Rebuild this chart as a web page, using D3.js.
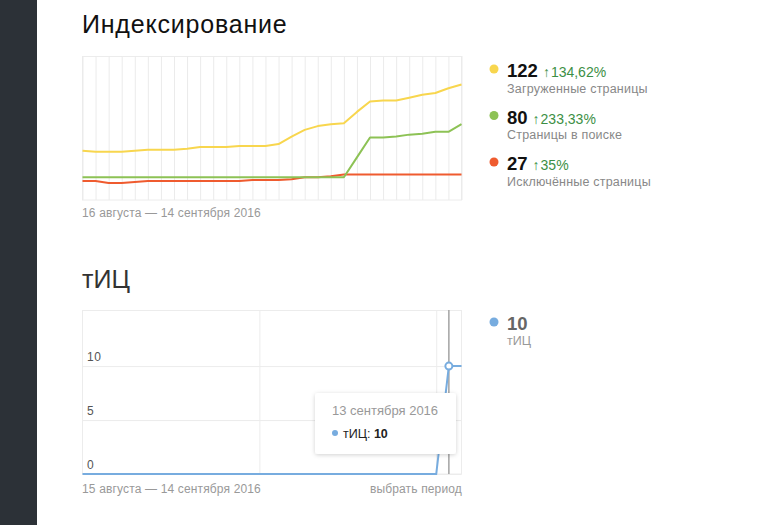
<!DOCTYPE html>
<html><head><meta charset="utf-8">
<script src="https://cdn.jsdelivr.net/npm/d3@7"></script>
<style>
html,body{margin:0;padding:0;background:#fff;}
svg{display:block;font-family:Arial,"Liberation Sans",sans-serif;}
</style></head>
<body>
<svg id="c" width="769" height="525"></svg>
<script>
// ---- data ----
const idxDates = d3.range(30).map(i => d3.timeDay.offset(new Date(2016, 7, 16), i));
const loadedPages   = [52,51,51,51,52,53,53,53,54,56,56,56,57,57,57,59,67,74,78,80,81,93,104,105,105,108,111,113,118,122];
const searchPages   = [24,24,24,24,24,24,24,24,24,24,24,24,24,24,24,24,24,24,24,24,24,45,66,66,67,69,70,72,72,80];
const excludedPages = [20,20,18,18,19,20,20,20,20,20,20,20,20,21,21,21,22,24,24,25,27,27,27,27,27,27,27,27,27,27];
const idxLegendValues = [122, 80, 27];
const idxLegendChanges = ["134,62%", "233,33%", "35%"];
const idxLegendNames = ["Загруженные страницы", "Страницы в поиске", "Исключённые страницы"];

const ticDates = d3.range(31).map(i => d3.timeDay.offset(new Date(2016, 7, 15), i));
const ticValues = [0,0,0,0,0,0,0,0,0,0,0,0,0,0,0,0,0,0,0,0,0,0,0,0,0,0,0,0,0,10,10];
const ticTicks = [0, 5, 10];

const svg = d3.select("#c");
const colors = {yellow:"#f8d64e", green:"#8dc255", red:"#ef5b2f", blue:"#77acdf"};

// sidebar
svg.append("rect").attr("x",0).attr("y",0).attr("width",37).attr("height",525).attr("fill","#2c3137");

// ---- Indexing chart ----
svg.append("text").attr("x",82).attr("y",33).attr("font-size",25).attr("letter-spacing",0.8).attr("fill","#111").text("Индексирование");

const x1 = d3.scaleTime().domain([idxDates[0], idxDates[29]]).range([82.5, 461.5]);
const y1 = d3.scaleLinear().domain([0, 152]).range([200, 56]);

const g1 = svg.append("g");
g1.append("rect").attr("x",82.5).attr("y",56.5).attr("width",379).attr("height",143.5)
  .attr("fill","none").attr("stroke","#ececec");
const gx1 = g1.append("g").attr("transform","translate(0,200)")
  .call(d3.axisBottom(x1).tickValues(idxDates).tickSize(-144).tickFormat(""));
gx1.select(".domain").remove();
gx1.selectAll("line").attr("stroke","#ebebeb");

const line1 = d3.line().x((d,i) => x1(idxDates[i])).y(d => y1(d));
[[excludedPages, colors.red],[searchPages, colors.green],[loadedPages, colors.yellow]].forEach(([s,c]) => {
  g1.append("path").datum(s).attr("d", line1).attr("fill","none").attr("stroke",c).attr("stroke-width",2).attr("stroke-linejoin","round");
});
svg.append("text").attr("x",82).attr("y",217).attr("font-size",12).attr("letter-spacing",0.15).attr("fill","#999").text("16 августа — 14 сентября 2016");

// legend
const legColors = [colors.yellow, colors.green, colors.red];
idxLegendValues.forEach((v,i) => {
  const yb = 77 + i*46.5;
  svg.append("circle").attr("cx",494).attr("cy",yb-8).attr("r",4.5).attr("fill",legColors[i]);
  const t = svg.append("text").attr("x",507).attr("y",yb);
  t.append("tspan").attr("font-size",18.5).attr("font-weight","bold").attr("fill","#111").text(v);
  t.append("tspan").attr("dx",5).attr("font-size",14).attr("fill","#3c8f45").text("↑");
  t.append("tspan").attr("dx",1).attr("font-size",14).attr("fill","#3c8f45").text(idxLegendChanges[i]);
  svg.append("text").attr("x",507).attr("y",yb+15.5).attr("font-size",12.5).attr("fill","#888").attr("letter-spacing",0.2).text(idxLegendNames[i]);
});

// ---- TIC chart ----
svg.append("text").attr("x",82).attr("y",288).attr("font-size",25).attr("fill","#333").text("тИЦ");

const x2 = d3.scaleTime().domain([ticDates[0], ticDates[30]]).range([82.5, 461.5]);
const y2 = d3.scaleLinear().domain([0, 15.2]).range([474, 310]);
const g2 = svg.append("g");
g2.append("rect").attr("x",82.5).attr("y",310.5).attr("width",379).attr("height",163.5)
  .attr("fill","none").attr("stroke","#ececec");
const gy2 = g2.append("g").attr("transform","translate(82.5,0)")
  .call(d3.axisRight(y2).tickValues(ticTicks).tickSize(379).tickFormat(""));
gy2.select(".domain").remove();
gy2.selectAll("line").attr("stroke","#ececec");
const gx2 = g2.append("g").attr("transform","translate(0,474)")
  .call(d3.axisBottom(x2).tickValues([ticDates[14], ticDates[28]]).tickSize(-164).tickFormat(""));
gx2.select(".domain").remove();
gx2.selectAll("line").attr("stroke","#ececec");
ticTicks.forEach(t => {
  g2.append("text").attr("x",87).attr("y",y2(t)-5.5).attr("font-size",12).attr("letter-spacing",0.5).attr("fill","#555").text(t);
});
// hover line
const hi = 29;
g2.append("line").attr("x1",x2(ticDates[hi])).attr("x2",x2(ticDates[hi])).attr("y1",310).attr("y2",474)
  .attr("stroke","#a3a3a3").attr("stroke-width",1.5);
const line2 = d3.line().x((d,i) => x2(ticDates[i])).y(d => y2(d));
g2.append("path").datum(ticValues).attr("d", line2).attr("fill","none").attr("stroke",colors.blue).attr("stroke-width",2);
g2.append("circle").attr("cx",x2(ticDates[hi])).attr("cy",y2(ticValues[hi])).attr("r",3.5)
  .attr("fill","#fff").attr("stroke",colors.blue).attr("stroke-width",2);

// tooltip
const defs = svg.append("defs");
const f = defs.append("filter").attr("id","sh").attr("x","-20%").attr("y","-20%").attr("width","140%").attr("height","140%");
f.append("feDropShadow").attr("dx",0).attr("dy",1).attr("stdDeviation",2).attr("flood-color","#000").attr("flood-opacity",0.18);
svg.append("rect").attr("x",315).attr("y",393).attr("width",141).attr("height",61).attr("rx",3)
  .attr("fill","#fff").attr("filter","url(#sh)");
svg.append("text").attr("x",332).attr("y",415).attr("font-size",13).attr("fill","#999").text("13 сентября 2016");
svg.append("circle").attr("cx",335).attr("cy",433).attr("r",3).attr("fill",colors.blue);
const tt = svg.append("text").attr("x",343).attr("y",437.5).attr("font-size",12.5).attr("fill","#222");
tt.append("tspan").text("тИЦ: ");
tt.append("tspan").attr("font-weight","bold").text(ticValues[hi]);

svg.append("text").attr("x",82).attr("y",493).attr("font-size",12).attr("letter-spacing",0.15).attr("fill","#999").text("15 августа — 14 сентября 2016");
svg.append("text").attr("x",462).attr("y",493).attr("font-size",12).attr("letter-spacing",0.15).attr("fill","#999").attr("text-anchor","end").text("выбрать период");

// tic legend
svg.append("circle").attr("cx",494).attr("cy",322).attr("r",4.5).attr("fill",colors.blue);
svg.append("text").attr("x",507).attr("y",330).attr("font-size",18.5).attr("font-weight","bold").attr("fill","#666").text(ticValues[ticValues.length-1]);
svg.append("text").attr("x",507).attr("y",345).attr("font-size",12.5).attr("fill","#999").text("тИЦ");
</script>
</body></html>
